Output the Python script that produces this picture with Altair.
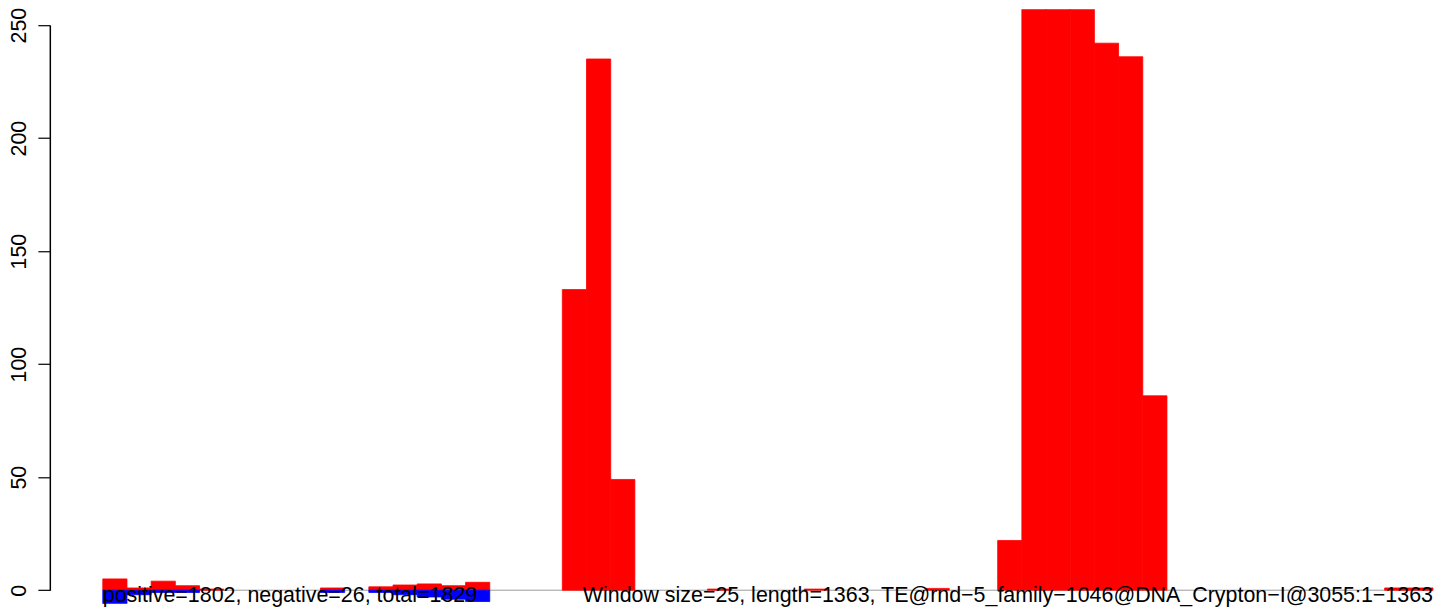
import altair as alt
import pandas as pd

# window index (window size 25 bp over 1363 bp -> 55 windows)
window_index = list(range(55))

# positive-strand values (red, upwards)
positive = [5, 1, 4, 2, 0.5, 0, 0, 0, 0, 1,
            0, 1.5, 2.3, 2.8, 2, 3.5, 0, 0, 0, 133,
            235, 49, 0, 0, 0, 0.5, 0, 0, 0, 0.5,
            0, 0, 0, 0, 0.8, 0, 0, 22, 257, 257,
            257, 242, 236, 86, 0, 0, 0, 0, 0, 0,
            0, 0, 0, 1, 1]

# negative-strand values (blue, downwards)
negative = [6, 2, 1, 1, 0, 0, 0, 0, 0, 1,
            0, 1, 2, 3, 4, 5, 0, 0, 0, 0,
            0, 0, 0, 0, 0, 0, 0, 0, 0, 0,
            0, 0, 0, 0, 0, 0, 0, 0, 0, 0,
            0, 0, 0, 0, 0, 0, 0, 0, 0, 0,
            0, 0, 0, 0, 0]

y_ticks = [0, 50, 100, 150, 200, 250]
summary_left = "positive=1802, negative=26, total=1829"
summary_right = "Window size=25, length=1363, TE@rnd\u22125_family\u22121046@DNA_Crypton\u2212I@3055:1\u22121363"

FONT = "Liberation Sans"
FS = 21.5
X_LEFT = -2.19
Y_MIN, Y_MAX = -6, 257
HEIGHT = 597


def ypix(v):
    return (Y_MAX - v) / (Y_MAX - Y_MIN) * HEIGHT


df = pd.DataFrame({
    "i": window_index,
    "i_end": [i + 1 for i in window_index],
    "pos": positive,
    "neg": [-v for v in negative],
    "zero": [0] * len(window_index),
})

x_scale = alt.Scale(domain=[X_LEFT, 55.124], nice=False, zero=False)
y_scale = alt.Scale(domain=[Y_MIN, Y_MAX], nice=False, zero=False)

# axis layer: its own scale covering only the tick range, so the axis line
# spans 0..250 like base R graphics
axis_scale = alt.Scale(domain=[y_ticks[0], y_ticks[-1]], nice=False, zero=False,
                       range=[ypix(y_ticks[0]), ypix(y_ticks[-1])])
y_axis = alt.Axis(
    values=y_ticks, domain=True, domainColor="black", domainWidth=1.5,
    grid=False, ticks=True, tickSize=12,
    tickColor="black", tickWidth=1.2, labelAngle=-90, labelAlign="center",
    labelBaseline="alphabetic", labelPadding=12, labelFont=FONT,
    labelFontSize=FS, labelColor="black", labelOverlap=False, title=None,
    orient="left",
)

axis_layer = alt.Chart(pd.DataFrame({"t": y_ticks})).mark_point(opacity=0).encode(
    x=alt.value(0),
    y=alt.Y("t:Q", scale=axis_scale, axis=y_axis),
)

base = alt.Chart(df)

baseline = alt.Chart(pd.DataFrame({"a": [0], "b": [55], "z": [0]})).mark_rule(
    color="#9a9a9a", strokeWidth=1
).encode(
    x=alt.X("a:Q", scale=x_scale, axis=None),
    x2="b:Q",
    y=alt.Y("z:Q", scale=y_scale, axis=None),
)

pos_bars = base.transform_filter("datum.pos > 0").mark_rect(
    color="#FF0000", stroke="#FF0000", strokeWidth=0.8, clip=True
).encode(
    x=alt.X("i:Q", scale=x_scale, axis=None),
    x2="i_end:Q",
    y=alt.Y("pos:Q", scale=y_scale, axis=None),
    y2="zero:Q",
)

neg_bars = base.transform_filter("datum.neg < 0").mark_rect(
    color="#0000FF", stroke="#0000FF", strokeWidth=0.8, clip=True
).encode(
    x=alt.X("i:Q", scale=x_scale, axis=None),
    x2="i_end:Q",
    y=alt.Y("neg:Q", scale=y_scale, axis=None),
    y2="zero:Q",
)

texts = alt.Chart(pd.DataFrame({
    "label": [summary_left, summary_right],
    "xpos": [0, 55],
    "ypos": [-5.1, -5.1],
    "al": ["left", "right"],
}))

left_text = texts.transform_filter("datum.al == 'left'").mark_text(
    align="left", baseline="alphabetic", font=FONT, fontSize=FS, color="black"
).encode(
    x=alt.X("xpos:Q", scale=x_scale, axis=None),
    y=alt.Y("ypos:Q", scale=y_scale, axis=None),
    text="label:N",
)

right_text = texts.transform_filter("datum.al == 'right'").mark_text(
    align="right", baseline="alphabetic", font=FONT, fontSize=FS, color="black"
).encode(
    x=alt.X("xpos:Q", scale=x_scale, axis=None),
    y=alt.Y("ypos:Q", scale=y_scale, axis=None),
    text="label:N",
)

data_layers = alt.layer(baseline, pos_bars, neg_bars, left_text, right_text)

chart = alt.layer(axis_layer, data_layers).resolve_scale(
    y="independent"
).resolve_axis(y="independent").properties(
    width=1392,
    height=HEIGHT,
    autosize=alt.AutoSizeParams(type="none"),
    padding={"left": 42, "top": 0, "right": 0, "bottom": 8},
).configure(background="white", view=alt.ViewConfig(stroke=None))

chart.save("out.html", embed_options={"renderer": "svg", "actions": False})
